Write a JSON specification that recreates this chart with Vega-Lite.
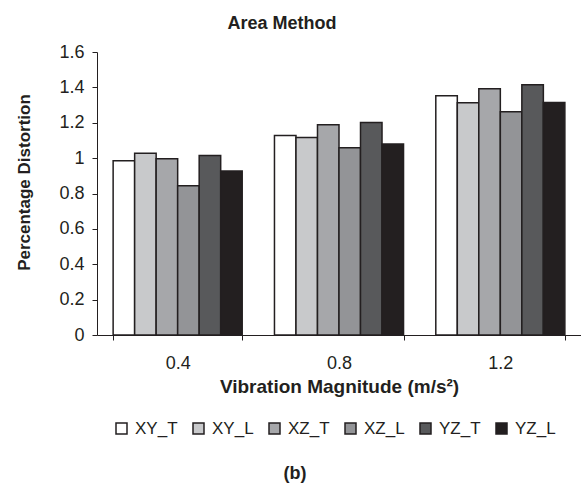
{
  "$schema": "https://vega.github.io/schema/vega-lite/v6.json",
  "width": 484,
  "height": 283,
  "autosize": {"type": "none"},
  "padding": {"left": 97, "top": 52, "right": 0, "bottom": 153},
  "background": "white",
  "title": {"text": "Area Method", "font": "Liberation Sans", "fontSize": 18, "fontWeight": "bold", "color": "#231f20", "anchor": "middle", "dx": -57, "offset": 10},
  "config": {"view": {"stroke": null}, "font": "Liberation Sans"},
  "data": {
    "values": [
      {"mag": "0.4", "series": "XY_T", "value": 0.985},
      {"mag": "0.4", "series": "XY_L", "value": 1.027},
      {"mag": "0.4", "series": "XZ_T", "value": 0.997},
      {"mag": "0.4", "series": "XZ_L", "value": 0.844},
      {"mag": "0.4", "series": "YZ_T", "value": 1.015},
      {"mag": "0.4", "series": "YZ_L", "value": 0.927},
      {"mag": "0.8", "series": "XY_T", "value": 1.128},
      {"mag": "0.8", "series": "XY_L", "value": 1.117},
      {"mag": "0.8", "series": "XZ_T", "value": 1.189},
      {"mag": "0.8", "series": "XZ_L", "value": 1.059},
      {"mag": "0.8", "series": "YZ_T", "value": 1.202},
      {"mag": "0.8", "series": "YZ_L", "value": 1.080},
      {"mag": "1.2", "series": "XY_T", "value": 1.353},
      {"mag": "1.2", "series": "XY_L", "value": 1.313},
      {"mag": "1.2", "series": "XZ_T", "value": 1.392},
      {"mag": "1.2", "series": "XZ_L", "value": 1.262},
      {"mag": "1.2", "series": "YZ_T", "value": 1.415},
      {"mag": "1.2", "series": "YZ_L", "value": 1.315}
    ]
  },
  "mark": {"type": "bar", "stroke": "#231f20", "strokeWidth": 1.5},
  "encoding": {
    "x": {
      "field": "mag", "type": "nominal", "sort": null,
      "scale": {"paddingInner": 0.2, "paddingOuter": 0.1},
      "axis": {
        "labelAngle": 0, "tickBand": "extent", "tickSize": 5, "tickColor": "#231f20",
        "domainColor": "#231f20", "labelFontSize": 18, "labelColor": "#231f20", "labelPadding": 14,
        "title": "Vibration Magnitude (m/s²)", "titleFontSize": 19, "titleFontWeight": "bold",
        "titleColor": "#231f20", "titlePadding": 5
      }
    },
    "xOffset": {
      "field": "series", "type": "nominal",
      "sort": ["XY_T", "XY_L", "XZ_T", "XZ_L", "YZ_T", "YZ_L"],
      "scale": {"paddingInner": 0, "paddingOuter": 0}
    },
    "y": {
      "field": "value", "type": "quantitative",
      "scale": {"domain": [0, 1.6]},
      "axis": {
        "values": [0, 0.2, 0.4, 0.6, 0.8, 1, 1.2, 1.4, 1.6], "format": ".1~f",
        "grid": false, "domainColor": "#231f20", "tickColor": "#231f20", "tickSize": 5,
        "labelFontSize": 18, "labelColor": "#231f20", "labelPadding": 8,
        "title": "Percentage Distortion", "titleFontSize": 17, "titleFontWeight": "bold",
        "titleColor": "#231f20", "titlePadding": 25, "titleY": 130
      }
    },
    "color": {
      "field": "series", "type": "nominal",
      "scale": {
        "domain": ["XY_T", "XY_L", "XZ_T", "XZ_L", "YZ_T", "YZ_L"],
        "range": ["#ffffff", "#c8c9cb", "#a6a7aa", "#939497", "#58595b", "#231f20"]
      },
      "legend": {
        "orient": "none", "legendX": 16, "legendY": 368, "direction": "horizontal",
        "title": "(b)", "titleOrient": "bottom", "titleAnchor": "middle",
        "titleFontSize": 18, "titleFontWeight": "bold", "titleColor": "#231f20", "titlePadding": 28,
        "symbolType": "square", "symbolSize": 121, "symbolStrokeColor": "#231f20", "symbolStrokeWidth": 1.5,
        "symbolOpacity": 1,
        "labelFontSize": 17, "labelColor": "#231f20", "labelOffset": 5, "columnPadding": 12, "padding": 0,
        "encoding": {"title": {"dx": {"value": -39}}}
      }
    }
  }
}
